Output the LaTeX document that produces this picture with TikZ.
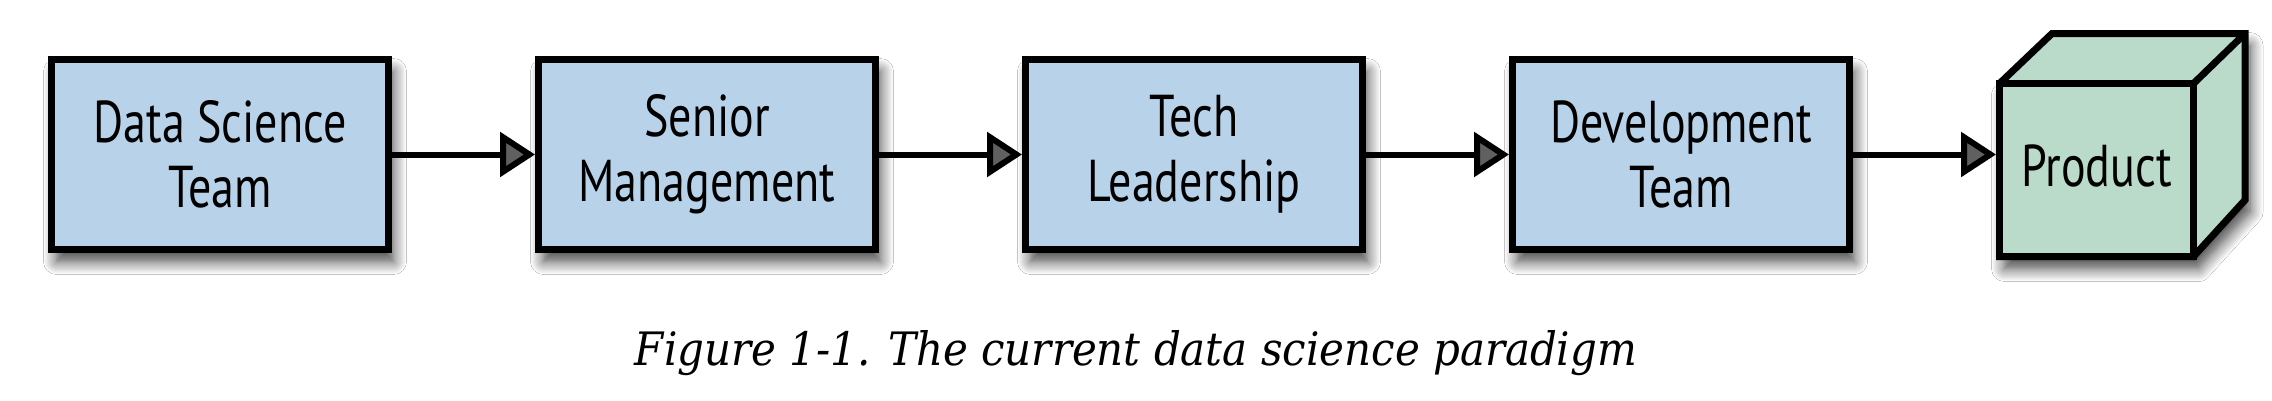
\documentclass[tikz,border=0pt]{standalone}
\usepackage{fontspec}
\usepackage{graphicx}
\usetikzlibrary{arrows.meta,shadows.blur,calc}
\newfontfamily\boxfont[FakeStretch=0.78]{PT Sans}
\newfontfamily\capfont{DejaVu Serif}
\definecolor{boxblue}{HTML}{B8D3E9}
\definecolor{prodgreen}{HTML}{BADBC9}
\tikzset{
  softshadow/.style={blur shadow={shadow xshift=5pt, shadow yshift=-12pt, shadow blur radius=13pt, shadow blur steps=12, shadow opacity=75}},
  stage/.style={draw=black, line width=7pt, fill=boxblue, minimum width=337pt, minimum height=190pt,
    align=center, font=\boxfont\fontsize{59}{65}\selectfont, inner sep=0pt, softshadow},
  flow/.style={line width=6pt, -{Triangle[length=35pt,width=44pt]}},
  face/.style={draw=black, line width=7pt, fill=prodgreen, line join=miter},
}
\begin{document}
\begin{tikzpicture}[x=1pt,y=-1pt]
\useasboundingbox (0,0) rectangle (2272,400);
\fill[white] (0,0) rectangle (2272,400);
\node[stage] (ds) at (220,154.5) {Data Science\\Team};
\node[stage] (sm) at (707,154.5) {Senior\\Management};
\node[stage] (tl) at (1194,154.5) {Tech\\Leadership};
\node[stage] (dt) at (1681,154.5) {Development\\Team};
% cube
\coordinate (fbl) at (1999.5,256.5);
\coordinate (ftl) at (1999.5,83.5);
\coordinate (ftr) at (2193.5,83.5);
\coordinate (fbr) at (2193.5,256.5);
\coordinate (btl) at (2052,33.5);
\coordinate (btr) at (2245,33.5);
\coordinate (bbr) at (2245,200);
\path[face, softshadow] (fbl) -- (ftl) -- (btl) -- (btr) -- (bbr) -- (fbr) -- cycle;
\draw[line width=7pt] (ftr) -- (btr);
\node[face, minimum width=194pt, minimum height=173pt, inner sep=0pt,
  font=\boxfont\fontsize{59}{65}\selectfont] (product) at (2096.5,170) {\raisebox{8pt}{Product}};
% connectors
\draw[flow] (ds) -- (sm);
\draw[flow] (sm) -- (tl);
\draw[flow] (tl) -- (dt);
\draw[flow] (dt) -- (dt -| product.west);
% caption
\node[anchor=base, inner sep=0pt] (cap) at (1136,365)
  {\resizebox{1002pt}{35pt}{\capfont\itshape Figure 1-1. The current data science paradigm}};
\end{tikzpicture}
\end{document}
